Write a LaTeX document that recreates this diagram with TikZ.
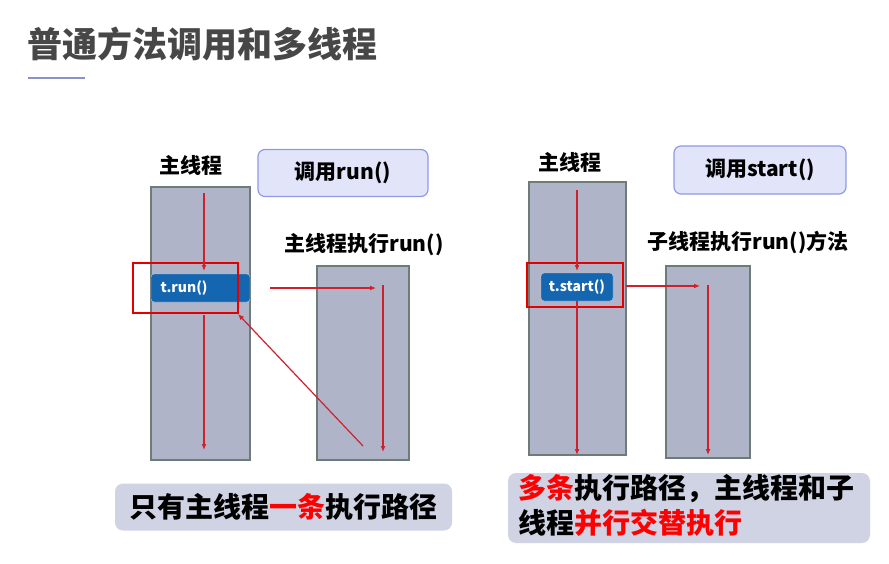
\documentclass[tikz,border=0pt]{standalone}
\usepackage{fontspec}
\setmainfont{Noto Sans CJK SC}
\usetikzlibrary{arrows.meta}
\definecolor{colfill}{HTML}{B0B4C8}
\definecolor{colline}{HTML}{6E7C78}
\definecolor{callfill}{HTML}{E2E5FA}
\definecolor{calldraw}{HTML}{8E9AE6}
\definecolor{tblue}{HTML}{1466B0}
\definecolor{arr}{HTML}{D0202C}
\begin{document}
\begin{tikzpicture}[x=1pt,y=-1pt,
  col/.style={draw=colline,line width=1.2pt,fill=colfill},
  callbox/.style={draw=calldraw,line width=1.2pt,fill=callfill,rounded corners=7pt},
  lab/.style={font=\bfseries\fontsize{21}{24}\selectfont},
  tbox/.style={fill=tblue,draw=white!70!tblue,rounded corners=3pt,text=white,font=\bfseries\fontsize{14}{16}\selectfont},
  redbox/.style={draw=red!90!black,line width=1.8pt},
  flow/.style={arr,line width=1.2pt,-{Latex[length=6pt,width=5pt]}},
  note/.style={fill=gray!18!callfill,rounded corners=8pt}]
\useasboundingbox (0,0) rectangle (889,564);
\node[anchor=west,font=\bfseries\fontsize{35}{38}\selectfont,text=black!72] (title) at (24,44) {普通方法调用和多线程};
\draw[line width=1.5pt,draw=calldraw!70!gray] (28,78) -- (85,78);
% left
\node[lab] (lm) at (191,165) {主线程};
\node[callbox,minimum width=170pt,minimum height=47pt,lab] (c1) at (343,173) {调用run()};
\node[lab] (ls) at (364,245) {主线程执行run()};
\path[col] (151,187) rectangle (250,460);
\path[col] (317,266) rectangle (409,460);
\node[tbox,minimum width=99pt,minimum height=28pt,text width=80pt,align=left] (tr) at (200.5,288) {t.run()};
\node[redbox,minimum width=105pt,minimum height=50pt] (r1) at (185.5,288) {};
\coordinate (a1) at (204,193); \coordinate (a2) at (204,271);
\coordinate (a3) at (204,315); \coordinate (a4) at (204,450);
\coordinate (h1) at (270,288); \coordinate (h2) at (376,288);
\coordinate (s1) at (383,285); \coordinate (s2) at (383,452);
\coordinate (d1) at (363,446); \coordinate (d2) at (238,314);
\draw[flow] (a1) -- (a2);
\draw[flow] (a3) -- (a4);
\draw[flow] (h1) -- (h2);
\draw[flow] (s1) -- (s2);
\draw[flow] (d1) -- (d2);
\node[note,minimum width=337pt,minimum height=47pt] (n1) at (283.5,507) {};
\node[font=\bfseries\fontsize{28}{32}\selectfont] (n1t) at (283.5,507) {只有主线程\textcolor{red}{一条}执行路径};
% right
\node[lab] (rm) at (570,162) {主线程};
\node[callbox,minimum width=172pt,minimum height=48pt,lab] (c2) at (760,170) {调用start()};
\node[lab] (rs) at (748,242) {子线程执行run()方法};
\path[col] (529,182) rectangle (626,455);
\path[col] (666,266) rectangle (750,458);
\node[tbox,minimum width=72pt,minimum height=28pt] (ts) at (577,287) {t.start()};
\node[redbox,minimum width=96pt,minimum height=44pt] (r2) at (575,285) {};
\coordinate (b1) at (577,190); \coordinate (b2) at (577,271);
\coordinate (b3) at (577,301); \coordinate (b4) at (577,455);
\coordinate (g1) at (626,286); \coordinate (g2) at (700,286);
\coordinate (u1) at (708,285); \coordinate (u2) at (708,455);
\draw[flow] (b1) -- (b2);
\draw[flow] (b3) -- (b4);
\draw[flow] (g1) -- (g2);
\draw[flow] (u1) -- (u2);
\node[note,minimum width=362pt,minimum height=70pt] (n2) at (689,508) {};
\node[anchor=north west,align=left,inner sep=0pt,font=\bfseries\fontsize{28}{35}\selectfont] (n2t) at (518,474) {\textcolor{red}{多条}执行路径，主线程和子\\线程\textcolor{red}{并行交替执行}};
\end{tikzpicture}
\end{document}
